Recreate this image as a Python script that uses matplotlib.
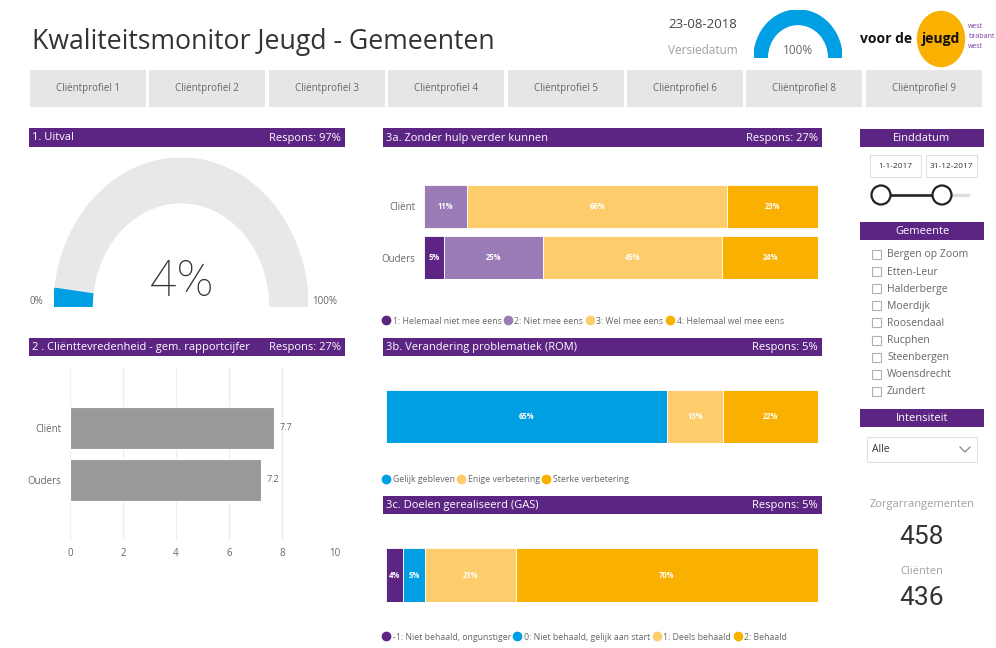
import numpy as np
import matplotlib
matplotlib.use("Agg")
import matplotlib.pyplot as plt
from matplotlib.patches import Rectangle, Wedge, Ellipse
from matplotlib.lines import Line2D

# ---------------- data ----------------
title = "Kwaliteitsmonitor Jeugd - Gemeenten"
version_date = "23-08-2018"
version_pct = 100
tabs = ["Cliëntprofiel 1", "Cliëntprofiel 2", "Cliëntprofiel 3", "Cliëntprofiel 4",
        "Cliëntprofiel 5", "Cliëntprofiel 6", "Cliëntprofiel 8", "Cliëntprofiel 9"]

uitval_pct = 4
uitval_respons = "Respons: 97%"

sat_categories = ["Cliënt", "Ouders"]
sat_values = [7.7, 7.2]
sat_ticks = [0, 2, 4, 6, 8, 10]
sat_respons = "Respons: 27%"

q3a_categories = ["Cliënt", "Ouders"]
q3a_labels = ["1: Helemaal niet mee eens", "2: Niet mee eens", "3: Wel mee eens", "4: Helemaal wel mee eens"]
q3a_client = [0, 11, 66, 23]
q3a_ouders = [5, 25, 45, 24]
q3a_respons = "Respons: 27%"

rom_labels = ["Gelijk gebleven", "Enige verbetering", "Sterke verbetering"]
rom_values = [65, 13, 22]
rom_respons = "Respons: 5%"

gas_labels = ["-1: Niet behaald, ongunstiger", "0: Niet behaald, gelijk aan start", "1: Deels behaald", "2: Behaald"]
gas_values = [4, 5, 21, 70]
gas_respons = "Respons: 5%"

date_from = "1-1-2017"
date_to = "31-12-2017"
gemeenten = ["Bergen op Zoom", "Etten-Leur", "Halderberge", "Moerdijk", "Roosendaal",
             "Rucphen", "Steenbergen", "Woensdrecht", "Zundert"]
intensiteit = "Alle"
zorgarrangementen = 458
clienten = 436

# ---------------- style ----------------
PURPLE = "#5c2483"
LPURPLE = "#9b7bb5"
LYELLOW = "#fccd6a"
ORANGE = "#f9b000"
BLUE = "#009fe3"
GRAYTXT = "#666666"
FONT = "Open Sans"
NUMFONT = ["Roboto", "DejaVu Sans"]
plt.rcParams["font.family"] = [FONT, "DejaVu Sans"]

W, H = 996, 648
fig = plt.figure(figsize=(W / 100, H / 100), dpi=100)
fig.patch.set_facecolor("white")


def rect(x0, y0, x1, y1):
    return [x0 / W, 1 - y1 / H, (x1 - x0) / W, (y1 - y0) / H]


# background overlay in pixel coordinates
bg = fig.add_axes([0, 0, 1, 1])
bg.set_xlim(0, W)
bg.set_ylim(H, 0)
bg.axis("off")
bg.set_zorder(0)

# title and version
bg.text(32, 42, title, fontsize=19.2, color="#333333", va="center", ha="left")
bg.text(703, 24, version_date, fontsize=9.5, color="#444444", va="center", ha="center")
bg.text(703, 51, "Versiedatum", fontsize=8.5, color="#a0a0a0", va="center", ha="center")

# small gauge top
axg2 = fig.add_axes(rect(754, 10, 842, 58))
axg2.set_xlim(-1, 1)
axg2.set_ylim(0, 1)
axg2.axis("off")
axg2.add_patch(Wedge((0, 0), 1, 0, 180, width=0.30, color="#e8e8e8"))
axg2.add_patch(Wedge((0, 0), 1, 180 - 180 * version_pct / 100, 180, width=0.30, color=BLUE))
bg.text(798, 50, f"{version_pct}%", fontsize=8.5, color="#666666", ha="center", va="center")

# logo
bg.add_patch(Ellipse((941, 39), 47, 55, color=ORANGE, zorder=1))
bg.text(860, 39, "voor de", fontsize=10, weight="bold", color="#111111", va="center", ha="left", zorder=2)
bg.text(922, 39, "jeugd", fontsize=10, weight="bold", color="#111111", va="center", ha="left", zorder=2)
for i, w in enumerate(["west", "brabant", "west"]):
    bg.text(968, 27 + i * 10, w, fontsize=5, color="#7b3fa0", va="center", ha="left")

# tabs
tab_x = [30, 149, 269, 388, 508, 627, 746, 866]
for x0, t in zip(tab_x, tabs):
    bg.add_patch(Rectangle((x0, 70), 116, 37, color="#e6e6e6", lw=0))
    bg.text(x0 + 58, 89, t, fontsize=7, color=GRAYTXT, ha="center", va="center")


def header(x0, x1, y0, y1, left, right=None, center=False):
    bg.add_patch(Rectangle((x0, y0), x1 - x0, y1 - y0, color=PURPLE, lw=0))
    ym = (y0 + y1) / 2 + 0.5
    if center:
        bg.text((x0 + x1) / 2, ym, left, fontsize=8, color="white", ha="center", va="center")
    else:
        bg.text(x0 + 3, ym, left, fontsize=8, color="white", ha="left", va="center")
    if right:
        bg.text(x1 - 4, ym, right, fontsize=8, color="white", ha="right", va="center")


header(29, 345, 128, 147, "1. Uitval", uitval_respons)
header(29, 345, 338, 356, "2 . Cliënttevredenheid - gem. rapportcijfer", sat_respons)
header(383, 822, 128, 147, "3a. Zonder hulp verder kunnen", q3a_respons)
header(383, 822, 338, 356, "3b. Verandering problematiek (ROM)", rom_respons)
header(383, 822, 496, 514, "3c. Doelen gerealiseerd (GAS)", gas_respons)
header(860, 984, 129, 147, "Einddatum", center=True)
header(860, 984, 222, 240, "Gemeente", center=True)
header(860, 984, 409, 427, "Intensiteit", center=True)

# ---------------- 1. gauge ----------------
axg = fig.add_axes(rect(54, 158, 308, 307))
axg.set_xlim(-1, 1)
axg.set_ylim(0, 1)
axg.axis("off")
axg.add_patch(Wedge((0, 0), 1, 0, 180, width=0.30, color="#e8e8e8"))
axg.add_patch(Wedge((0, 0), 1, 180 - 180 * uitval_pct / 100, 180, width=0.30, color=BLUE))
bg.text(181, 282, f"{uitval_pct}%", fontsize=36, color="#333333", ha="center", va="center",
        family=NUMFONT, weight="light")
bg.text(36, 302, "0%", fontsize=7, color=GRAYTXT, ha="center", va="center")
bg.text(325, 302, "100%", fontsize=7, color=GRAYTXT, ha="center", va="center")

# ---------------- 2. satisfaction ----------------
axs = fig.add_axes(rect(70, 367, 335, 540))
ys = np.arange(len(sat_categories))
axs.barh(ys, sat_values, height=0.815, color="#999999", edgecolor="white", lw=0.8, zorder=3)
axs.set_xlim(0, 10)
axs.set_ylim(len(sat_categories) - 1 + 1.17, -1.18)
axs.set_xticks(sat_ticks)
axs.set_xticklabels([str(t) for t in sat_ticks], fontsize=7, color=GRAYTXT)
axs.set_yticks(ys)
axs.set_yticklabels(sat_categories, fontsize=7, color=GRAYTXT)
axs.tick_params(length=0, pad=6)
axs.grid(axis="x", color="#eeeeee", lw=1, zorder=0)
for s in axs.spines.values():
    s.set_visible(False)
for y, v in zip(ys, sat_values):
    axs.text(v + 0.2, y, f"{v}", fontsize=6.5, color=GRAYTXT, va="center", ha="left")


def stacked(ax, rows, colors, height):
    for y, row in enumerate(rows):
        tot = float(sum(row))
        left = 0.0
        for v, c in zip(row, colors):
            w = v / tot * 100
            if v > 0:
                ax.barh(y, w, left=left, height=height, color=c, edgecolor="white", lw=0.6)
                ax.text(left + w / 2, y, f"{v}%", fontsize=5.5, color="white", weight="bold",
                        ha="center", va="center")
            left += w
    ax.set_xlim(0, 100)
    for s in ax.spines.values():
        s.set_visible(False)
    ax.set_xticks([])


def legend(x, y, labels, colors):
    handles = [Line2D([], [], marker="o", ls="", markersize=6, color=c) for c in colors]
    fig.legend(handles, labels, loc="center left", bbox_to_anchor=(x / W, 1 - y / H),
               ncol=len(labels), frameon=False, fontsize=6.3, handletextpad=0.3,
               columnspacing=0.3, handlelength=0.9, labelcolor=GRAYTXT, borderpad=0, borderaxespad=0)


# ---------------- 3a ----------------
ax3a = fig.add_axes(rect(424, 185, 818, 279))
c3a = [PURPLE, LPURPLE, LYELLOW, ORANGE]
stacked(ax3a, [q3a_client, q3a_ouders], c3a, 0.84)
ax3a.set_ylim(1.42, -0.42)
ax3a.set_yticks(range(len(q3a_categories)))
ax3a.set_yticklabels(q3a_categories, fontsize=7, color=GRAYTXT)
ax3a.tick_params(length=0, pad=6)
legend(382, 321, q3a_labels, c3a)

# ---------------- 3b ----------------
ax3b = fig.add_axes(rect(386, 390, 818, 443))
c3b = [BLUE, LYELLOW, ORANGE]
stacked(ax3b, [rom_values], c3b, 1.0)
ax3b.set_ylim(0.5, -0.5)
ax3b.set_yticks([])
legend(382, 480, rom_labels, c3b)

# ---------------- 3c ----------------
ax3c = fig.add_axes(rect(386, 548, 818, 602))
c3c = [PURPLE, BLUE, LYELLOW, ORANGE]
stacked(ax3c, [gas_values], c3c, 1.0)
ax3c.set_ylim(0.5, -0.5)
ax3c.set_yticks([])
legend(382, 637, gas_labels, c3c)

# ---------------- right slicers ----------------
for (x0, x1), t in zip([(870, 921), (926, 977)], [date_from, date_to]):
    bg.add_patch(Rectangle((x0, 155), x1 - x0, 22, facecolor="white", edgecolor="#e0e0e0", lw=0.8))
    bg.text((x0 + x1) / 2, 166, t, fontsize=6, color="#333333", ha="center", va="center")
bg.plot([881, 968], [195, 195], color="#dddddd", lw=2.5, zorder=1, solid_capstyle="round")
bg.plot([881, 942], [195, 195], color="#222222", lw=1.8, zorder=2)
for cx in (881, 942):
    bg.add_patch(Ellipse((cx, 195), 19, 19, facecolor="white", edgecolor="#222222", lw=1.6, zorder=3))

for i, g in enumerate(gemeenten):
    y = 255 + i * 17.1
    bg.add_patch(Rectangle((872, y - 5), 9, 9, facecolor="white", edgecolor="#b0b0b0", lw=0.8))
    bg.text(887, y, g, fontsize=7.5, color=GRAYTXT, ha="left", va="center")

bg.add_patch(Rectangle((867, 437), 110, 25, facecolor="white", edgecolor="#e0e0e0", lw=0.8))
bg.text(872, 450, intensiteit, fontsize=7.5, color="#333333", ha="left", va="center")
bg.plot([960, 965, 970], [447, 452, 447], color="#888888", lw=0.9)

bg.text(922, 505, "Zorgarrangementen", fontsize=8, color="#a0a0a0", ha="center", va="center")
bg.text(922, 537, f"{zorgarrangementen}", fontsize=19, color="#333333", ha="center", va="center",
        family=NUMFONT)
bg.text(922, 571, "Cliënten", fontsize=8, color="#a0a0a0", ha="center", va="center")
bg.text(922, 598, f"{clienten}", fontsize=19, color="#333333", ha="center", va="center",
        family=NUMFONT)

fig.savefig("out.png", dpi=100, facecolor="white")
